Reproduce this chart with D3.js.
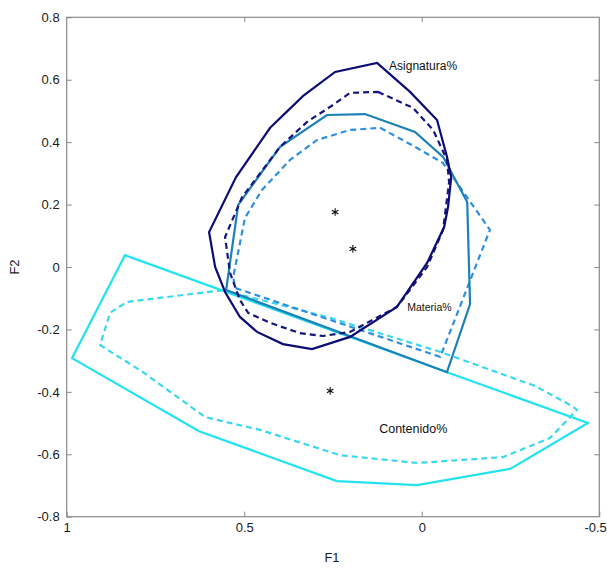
<!DOCTYPE html>
<html>
<head>
<meta charset="utf-8">
<script src="https://cdn.jsdelivr.net/npm/d3@7"></script>
<style>
  html, body { margin: 0; padding: 0; background: #fff; }
  svg { display: block; font-family: "Liberation Sans", Arial, sans-serif; }
</style>
</head>
<body>
<svg id="chart" width="607" height="568"></svg>
<script>
// Contour polygons in the F1/F2 factor plane (closed outlines)
const asignaturaSolid = [
  [0.126, 0.654], [0.033, 0.561], [-0.043, 0.471], [-0.071, 0.353], [-0.083, 0.288],
  [-0.074, 0.192], [-0.063, 0.128], [-0.015, 0.013], [0.070, -0.128], [0.202, -0.224],
  [0.309, -0.263], [0.391, -0.247], [0.464, -0.208], [0.512, -0.160], [0.554, -0.080],
  [0.582, 0.000], [0.599, 0.112], [0.523, 0.288], [0.427, 0.446], [0.334, 0.548], [0.244, 0.625]
];
const asignaturaDashed = [
  [0.123, 0.561], [0.025, 0.510], [-0.032, 0.439], [-0.071, 0.343], [-0.077, 0.272],
  [-0.060, 0.119], [-0.015, 0.000], [0.070, -0.128], [0.202, -0.208], [0.278, -0.221],
  [0.343, -0.212], [0.427, -0.179], [0.489, -0.147], [0.512, -0.106], [0.540, -0.019],
  [0.554, 0.096], [0.506, 0.224], [0.399, 0.385], [0.323, 0.465], [0.250, 0.519], [0.202, 0.558]
];
const materiaSolid = [
  [0.267, 0.487], [0.160, 0.490], [0.019, 0.433], [-0.060, 0.353], [-0.128, 0.208],
  [-0.136, -0.119], [-0.071, -0.337], [0.551, -0.074], [0.517, 0.199], [0.399, 0.385]
];
const materiaDashed = [
  [0.117, 0.446], [0.019, 0.385], [-0.060, 0.333], [-0.192, 0.119], [-0.052, -0.288],
  [0.526, -0.067], [0.531, -0.032], [0.498, 0.157], [0.450, 0.247], [0.371, 0.343],
  [0.295, 0.407], [0.202, 0.439]
];
const contenidoSolid = [
  [0.836, 0.038], [0.985, -0.292], [0.627, -0.526], [0.239, -0.686], [0.013, -0.699],
  [-0.249, -0.647], [-0.468, -0.500], [-0.071, -0.337]
];
const contenidoDashed = [
  [0.560, -0.074], [0.830, -0.112], [0.878, -0.147], [0.906, -0.250], [0.785, -0.337],
  [0.610, -0.481], [0.455, -0.522], [0.230, -0.603], [0.013, -0.628], [-0.229, -0.609],
  [-0.361, -0.548], [-0.437, -0.458], [-0.424, -0.446], [-0.319, -0.381], [-0.052, -0.272],
  [0.258, -0.163]
];

// Group centroids
const centroids = [[0.244, 0.176], [0.194, 0.058], [0.258, -0.397]];

// Group labels
const groupLabels = ["Asignatura%", "Materia%", "Contenido%"];
const labelPositions = [[0.092, 0.631], [0.041, -0.141], [0.120, -0.532]];
const labelSizes = [12, 10.5, 12.5];

// Axis ticks
const xTicks = [1, 0.5, 0, -0.5];
const yTicks = [-0.8, -0.6, -0.4, -0.2, 0, 0.2, 0.4, 0.6, 0.8];

const svg = d3.select("#chart");
const m = { left: 66.7, right: 599.3, top: 17.3, bottom: 516.7 };

const x = d3.scaleLinear().domain([1, -0.5]).range([m.left, m.right]);
const y = d3.scaleLinear().domain([-0.8, 0.8]).range([m.bottom, m.top]);

const fmt = d => (d < 0 ? "-" : "") + d3.format("~g")(Math.abs(d));

// Frame
svg.append("rect")
  .attr("x", m.left).attr("y", m.top)
  .attr("width", m.right - m.left).attr("height", m.bottom - m.top)
  .attr("fill", "none").attr("stroke", "#8a8a8a").attr("stroke-width", 1.2);

function styleAxis(g, showText) {
  g.select(".domain").remove();
  g.selectAll(".tick line").attr("stroke", "#8a8a8a").attr("stroke-width", 1);
  g.selectAll(".tick text").attr("fill", "#1a1a1a").style("font-size", "13px");
  if (!showText) g.selectAll(".tick text").remove();
}

svg.append("g").attr("transform", `translate(0,${m.bottom})`)
  .call(d3.axisBottom(x).tickValues(xTicks).tickFormat(fmt).tickSize(-5).tickPadding(6))
  .call(g => styleAxis(g, true))
  // keep the last label inside the window edge
  .call(g => g.selectAll(".tick text").filter(d => d === -0.5)
    .attr("text-anchor", "end").attr("x", 7));
svg.append("g").attr("transform", `translate(0,${m.top})`)
  .call(d3.axisTop(x).tickValues(xTicks.slice(1, 3)).tickSize(-5))
  .call(g => styleAxis(g, false));
svg.append("g").attr("transform", `translate(${m.left},0)`)
  .call(d3.axisLeft(y).tickValues(yTicks).tickFormat(fmt).tickSize(-5).tickPadding(7))
  .call(g => styleAxis(g, true));
svg.append("g").attr("transform", `translate(${m.right},0)`)
  .call(d3.axisRight(y).tickValues(yTicks.slice(1, -1)).tickSize(-5))
  .call(g => styleAxis(g, false));

// Axis titles
svg.append("text").attr("x", (m.left + m.right) / 2 - 1).attr("y", 562)
  .attr("text-anchor", "middle").attr("fill", "#1a1a1a").style("font-size", "13px").text("F1");
svg.append("text")
  .attr("transform", `translate(19,${(m.top + m.bottom) / 2}) rotate(-90)`)
  .attr("text-anchor", "middle").attr("fill", "#1a1a1a").style("font-size", "13px").text("F2");

// Outlines
const line = d3.line().x(d => x(d[0])).y(d => y(d[1])).curve(d3.curveLinearClosed);
const plot = svg.append("g");

const outlines = [
  { data: contenidoDashed, color: "#3ad8ee", dash: "6,4" },
  { data: contenidoSolid, color: "#22e2f0", dash: null },
  { data: materiaDashed, color: "#2f8fe0", dash: "6,4" },
  { data: materiaSolid, color: "#1d80b8", dash: null },
  { data: asignaturaDashed, color: "#161680", dash: "6,4" },
  { data: asignaturaSolid, color: "#0c0c74", dash: null }
];

outlines.forEach(o => {
  plot.append("path")
    .attr("d", line(o.data))
    .attr("fill", "none")
    .attr("stroke", o.color)
    .attr("stroke-width", 2.2)
    .attr("stroke-linejoin", "miter")
    .attr("stroke-dasharray", o.dash);
});

// Centroid markers
const star = d3.symbol().type(d3.symbolAsterisk).size(40);
plot.selectAll(".centroid").data(centroids).join("path")
  .attr("class", "centroid")
  .attr("transform", d => `translate(${x(d[0])},${y(d[1])})`)
  .attr("d", star)
  .attr("fill", "none")
  .attr("stroke", "#111")
  .attr("stroke-width", 1.1);

// Group labels
plot.selectAll(".glabel").data(groupLabels).join("text")
  .attr("class", "glabel")
  .attr("x", (d, i) => x(labelPositions[i][0]))
  .attr("y", (d, i) => y(labelPositions[i][1]))
  .attr("fill", "#111")
  .style("font-size", (d, i) => labelSizes[i] + "px")
  .text(d => d);
</script>
</body>
</html>
